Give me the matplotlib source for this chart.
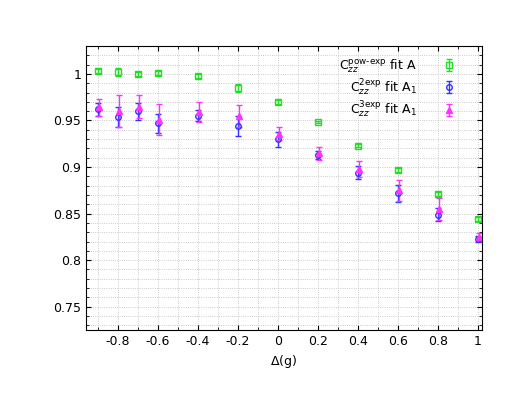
import numpy as np
import matplotlib
matplotlib.use('Agg')
import matplotlib.pyplot as plt

delta = [-0.9, -0.8, -0.7, -0.6, -0.4, -0.2, 0.0, 0.2, 0.4, 0.6, 0.8, 1.0]
c_pow = [1.003, 1.002, 1.000, 1.001, 0.998, 0.985, 0.970, 0.948, 0.923, 0.897, 0.871, 0.844]
e_pow = [0.002, 0.004, 0.002, 0.002, 0.002, 0.004, 0.002, 0.001, 0.002, 0.002, 0.002, 0.002]
c_2exp = [0.962, 0.954, 0.960, 0.947, 0.955, 0.944, 0.930, 0.913, 0.894, 0.872, 0.849, 0.823]
e_2exp = [0.007, 0.011, 0.009, 0.010, 0.006, 0.011, 0.008, 0.004, 0.007, 0.009, 0.007, 0.003]
c_3exp = [0.964, 0.960, 0.965, 0.951, 0.959, 0.955, 0.936, 0.915, 0.898, 0.875, 0.855, 0.825]
e_3exp = [0.009, 0.017, 0.012, 0.017, 0.011, 0.012, 0.007, 0.007, 0.009, 0.011, 0.012, 0.004]

fig = plt.figure(figsize=(5.18, 4.0), dpi=100)
ax = fig.add_axes([86/518, 70/400, 396/518, 284/400])

x = np.array(delta)
kw = dict(linestyle='none', elinewidth=1, capsize=2, capthick=1, ms=4, mew=1)
ax.errorbar(x, c_pow, yerr=e_pow, fmt='s', color='#22dd22', mfc='none', **kw,
            label=r'C$_{zz}^{\rm pow\text{-}exp}$ fit A')
ax.errorbar(x, c_2exp, yerr=e_2exp, fmt='o', color='#3333ff', mfc='none', **kw,
            label=r'C$_{zz}^{\rm 2exp}$ fit A$_1$')
ax.errorbar(x + 0.005, c_3exp, yerr=e_3exp, fmt='^', color='#ff33ff', **kw,
            label=r'C$_{zz}^{\rm 3exp}$ fit A$_1$')

ax.set_xlim(-0.96, 1.02)
ax.set_ylim(0.725, 1.03)
ax.set_xticks(np.arange(-0.8, 1.01, 0.2))
ax.set_xticklabels(['-0.8', '-0.6', '-0.4', '-0.2', '0', '0.2', '0.4', '0.6', '0.8', '1'])
ax.set_yticks([0.75, 0.8, 0.85, 0.9, 0.95, 1.0])
ax.set_yticklabels(['0.75', '0.8', '0.85', '0.9', '0.95', '1'])
ax.set_xticks(np.arange(-0.9, 1.01, 0.1), minor=True)
ax.set_yticks(np.arange(0.73, 1.031, 0.01), minor=True)
ax.tick_params(which='both', direction='in', top=True, right=True, labelsize=9)
ax.grid(True, which='both', color='#bbbbbb', linestyle=':', linewidth=0.6)
ax.set_xlabel(r'$\Delta$(g)', fontsize=9)
ax.legend(loc='upper right', frameon=False, fontsize=9, markerfirst=False,
          handlelength=3.5, labelspacing=0.2)

fig.savefig('out.png', dpi=100)
